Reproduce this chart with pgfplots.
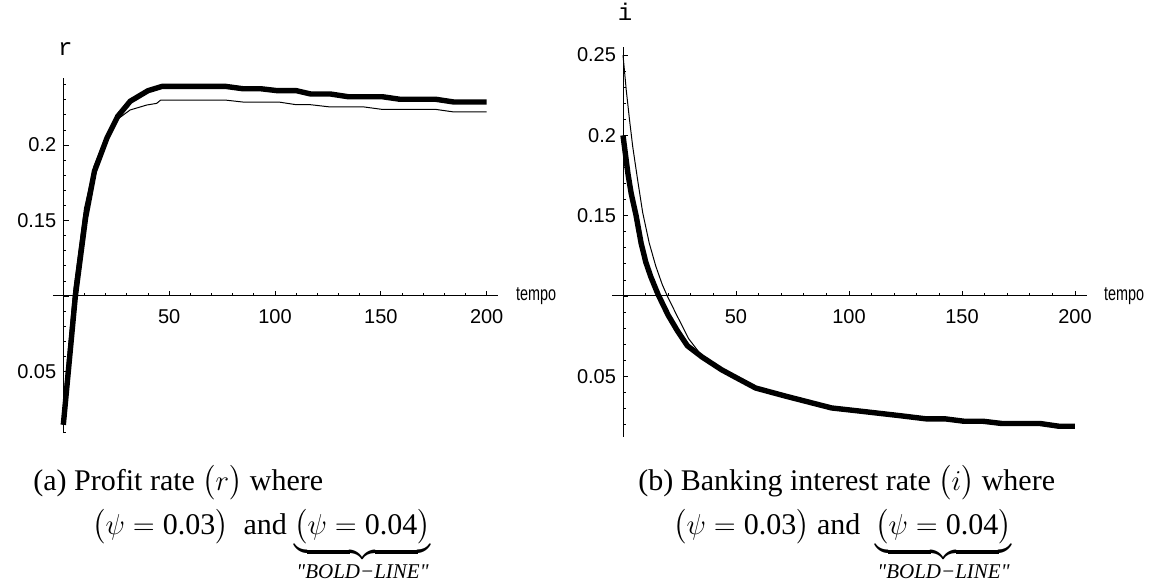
\documentclass[border=0pt]{standalone}
\usepackage{fontspec}
\setmainfont{Liberation Serif}
\setsansfont{Liberation Sans}
\setmonofont{Liberation Mono}
\newfontfamily\qfont{Liberation Serif}[Ligatures=TeXOff]
\usepackage{amsmath}
\usepackage{pgfplots}
\pgfplotsset{compat=1.18}

% r, psi = 0.03 (thin) and psi = 0.04 (bold)
\pgfplotstableread{
x y
0 0.027
5 0.105
10 0.158
14.5 0.186
20 0.205
25.2 0.2166
31.5 0.2232
39.4 0.2265
44.1 0.2276
46 0.2298
76.4 0.2298
84.8 0.2285
101.7 0.2285
110.1 0.2267
116.9 0.2267
126.2 0.2252
142.2 0.2252
150.7 0.2236
176 0.2236
184.5 0.2219
200 0.2219
}\rthin
\pgfplotstableread{
x y
0 0.0147
5.7 0.1
10.5 0.1516
14.7 0.1826
20.6 0.2046
25.7 0.219
31.6 0.229
40 0.236
46.8 0.2389
76.4 0.2389
84.8 0.2373
93.2 0.2373
101.2 0.236
110.1 0.236
116.9 0.2338
126.2 0.2338
134.6 0.232
150.7 0.232
159.1 0.2303
176 0.2303
184.5 0.2285
200 0.2285
}\rbold
% i, psi = 0.03 (thin) and psi = 0.04 (bold)
\pgfplotstableread{
x y
0 0.25
1.45 0.228
2.9 0.2095
4.3 0.193
6.5 0.172
8.7 0.152
11.6 0.133
14.5 0.1186
17.4 0.107
19.6 0.1
23.2 0.0897
29 0.0735
35 0.0625
43.6 0.0541
50.3 0.049
58.7 0.0427
72.1 0.0376
92.3 0.0303
105.7 0.0282
122.5 0.0255
134.2 0.0235
142.6 0.0235
151 0.022
159.4 0.022
167.8 0.0206
184.6 0.0206
193 0.0189
200 0.0189
}\ithin
\pgfplotstableread{
x y
0 0.2
2.2 0.176
3.6 0.164
5.8 0.15
8 0.133
10.1 0.121
12.3 0.112
15.5 0.101
20 0.088
24 0.0785
28.5 0.069
35 0.062
43.6 0.0541
50.3 0.049
58.7 0.0427
72.1 0.0376
92.3 0.0303
105.7 0.0282
122.5 0.0255
134.2 0.0235
142.6 0.0235
151 0.022
159.4 0.022
167.8 0.0206
184.6 0.0206
193 0.0189
200 0.0189
}\ibold

\pgfplotsset{
  mma/.style={
    scale only axis, clip=false,
    axis x line=bottom, axis y line=left,
    axis line style={-, line width=0.5pt},
    tick align=inside,
    major tick length=2.6pt, minor tick length=1.5pt,
    every tick/.style={black, line width=0.4pt},
    xmin=-4.87, xmax=205.2,
    xtick={0,50,100,150,200}, xticklabels={,50,100,150,200},
    minor xtick={10,20,...,190},
    minor ytick={0.01,0.02,...,0.245},
    tick label style={font=\sffamily\fontsize{10}{12}\selectfont},
    xticklabel style={yshift=-3pt},
  },
  thinline/.style={black, line width=0.5pt, line join=round},
  boldline/.style={black, line width=2.7pt, line join=round},
}
\newcommand{\capfont}{\fontsize{15}{18}\selectfont}
\newcommand{\boldnote}{\text{\qfont\itshape "BOLD−LINE"}}
\newcommand{\tempo}{\scalebox{0.72}[1]{tempo}}

\begin{document}
\begin{tikzpicture}
\useasboundingbox (0,0) rectangle (576.5pt,292.5pt);

\begin{axis}[mma, at={(26.5pt,76pt)}, anchor=south west,
  width=222.35pt, height=177.5pt,
  ymin=0.0093, ymax=0.2444,
  axis x line shift=-68.5pt, axis y line shift=-5.15pt,
  ytick={0.05,0.1,0.15,0.2}, yticklabels={0.05,,0.15,0.2}]
\addplot[thinline] table {\rthin};
\addplot[boldline] table {\rbold};
\node[anchor=west, inner sep=0pt, font=\sffamily\fontsize{10}{12}\selectfont]
  at (axis cs:205.2,0.1) [xshift=9pt] {\tempo};
\node[anchor=base, inner sep=0pt, font=\ttfamily\fontsize{12}{14}\selectfont]
  at (axis cs:0,0.2444) [xshift=1pt, yshift=11.5pt] {r};
\end{axis}

\begin{axis}[mma, at={(306pt,74.15pt)}, anchor=south west,
  width=237.35pt, height=195pt,
  ymin=0.0124, ymax=0.2552,
  axis x line shift=-70.35pt, axis y line shift=-5.5pt,
  ytick={0.05,0.1,0.15,0.2,0.25}, yticklabels={0.05,,0.15,0.2,0.25}]
\addplot[thinline] table {\ithin};
\addplot[boldline] table {\ibold};
\node[anchor=west, inner sep=0pt, font=\sffamily\fontsize{10}{12}\selectfont]
  at (axis cs:205.2,0.1) [xshift=8.5pt] {\tempo};
\node[anchor=base, inner sep=0pt, font=\ttfamily\fontsize{12}{14}\selectfont]
  at (axis cs:0,0.2552) [xshift=1pt, yshift=13pt] {i};
\end{axis}

\node[anchor=base west, inner sep=0pt, font=\capfont] at (16.5pt,47.5pt)
  {(a) Profit rate $\bigl(r\bigr)$ where};
\node[anchor=base west, inner sep=0pt, font=\capfont] at (46pt,25.5pt)
  {$\bigl(\psi=\text{0.03}\bigr)$\ \ and $\underbrace{\bigl(\psi=\text{0.04}\bigr)}_{\boldnote}$};
\node[anchor=base west, inner sep=0pt, font=\capfont] at (319pt,47.5pt)
  {(b) Banking interest rate $\bigl(i\bigr)$ where};
\node[anchor=base west, inner sep=0pt, font=\capfont] at (336.5pt,25.5pt)
  {$\bigl(\psi=\text{0.03}\bigr)$ and\ \ $\underbrace{\bigl(\psi=\text{0.04}\bigr)}_{\boldnote}$};
\end{tikzpicture}
\end{document}
